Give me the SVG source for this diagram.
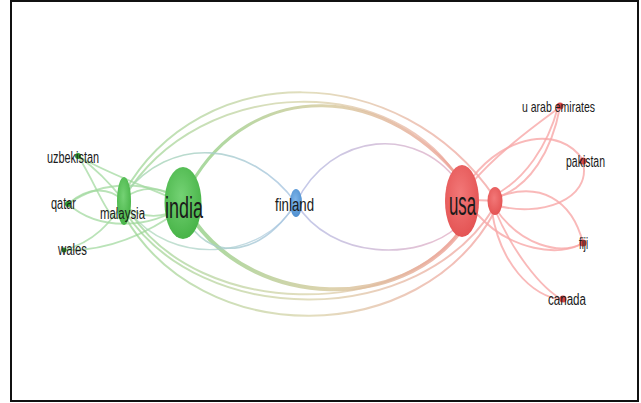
<svg xmlns="http://www.w3.org/2000/svg" width="641" height="403" viewBox="0 0 641 403">
<defs>
<linearGradient id="gLong" gradientUnits="userSpaceOnUse" x1="130" y1="0" x2="490" y2="0">
<stop offset="0" stop-color="#96d490"/>
<stop offset="0.5" stop-color="#d6cfa2"/>
<stop offset="1" stop-color="#f29a98"/>
</linearGradient>
<linearGradient id="gThick" gradientUnits="userSpaceOnUse" x1="190" y1="0" x2="470" y2="0">
<stop offset="0" stop-color="#8fd086"/>
<stop offset="0.5" stop-color="#d5c89a"/>
<stop offset="1" stop-color="#f09a94"/>
</linearGradient>
<linearGradient id="gBlue" gradientUnits="userSpaceOnUse" x1="130" y1="0" x2="296" y2="0">
<stop offset="0" stop-color="#a8d8b0"/>
<stop offset="1" stop-color="#a8c4e4"/>
</linearGradient>
<linearGradient id="gLav" gradientUnits="userSpaceOnUse" x1="296" y1="0" x2="462" y2="0">
<stop offset="0" stop-color="#b4bce4"/>
<stop offset="1" stop-color="#e6b0c4"/>
</linearGradient>
<radialGradient id="rGreen" cx="0.45" cy="0.4" r="0.6">
<stop offset="0" stop-color="#74d274"/>
<stop offset="1" stop-color="#48b448"/>
</radialGradient>
<radialGradient id="rRed" cx="0.45" cy="0.4" r="0.6">
<stop offset="0" stop-color="#f27878"/>
<stop offset="1" stop-color="#e45454"/>
</radialGradient>
<radialGradient id="rBlue" cx="0.45" cy="0.4" r="0.6">
<stop offset="0" stop-color="#7fb6ea"/>
<stop offset="1" stop-color="#4f8fd0"/>
</radialGradient>
</defs>
<style>
.e{fill:none;stroke-linecap:round}
.eg{stroke:#a3daa0;stroke-width:1.8;opacity:0.75}
.er{stroke:#f7a8a8;stroke-width:1.9;opacity:0.8}
.el{stroke:url(#gLong);stroke-width:2;opacity:0.7}
.lb{font-family:"Liberation Sans","DejaVu Sans",sans-serif;fill:#1a1a1a}
</style>
<rect x="11" y="1" width="627" height="400" fill="#fff" stroke="#111" stroke-width="2"/>
<g id="connectors">
<path class="e eg" d="M78,156 C110,175 150,188 183,203"/>
<path class="e eg" d="M78,156 C95,168 110,183 124,201"/>
<path class="e eg" d="M68,204 C90,185 110,188 124,201"/>
<path class="e eg" d="M68,204 C105,178 150,182 183,200"/>
<path class="e eg" d="M68,204 C100,232 150,228 183,206"/>
<path class="e eg" d="M64,250 C95,242 110,222 124,203"/>
<path class="e eg" d="M64,250 C110,252 150,232 183,208"/>
<path class="e eg" d="M124,198 C145,183 165,188 183,200"/>
<path class="e eg" d="M124,206 C145,220 165,218 183,206"/>
<path class="e eg" d="M78,156 C100,190 110,230 124,215"/>
<path class="e el" d="M124,193 C200,58 400,58 495,198"/>
<path class="e el" d="M124,198 C200,72 400,72 462,185"/>
<path class="e" d="M190,186 C250,78 390,78 470,192" stroke="url(#gThick)" stroke-width="3" opacity="0.8"/>
<path class="e" d="M195,222 C260,310 400,310 460,232" stroke="url(#gThick)" stroke-width="4" opacity="0.8"/>
<path class="e el" d="M124,210 C200,330 420,330 495,206"/>
<path class="e el" d="M124,215 C200,350 420,350 495,211"/>
<path class="e el" d="M130,212 C200,320 400,318 462,228"/>
<path class="e" d="M124,195 C170,135 250,140 296,203" stroke="url(#gBlue)" stroke-width="1.6" opacity="0.8"/>
<path class="e" d="M190,225 C215,262 262,255 296,203" stroke="url(#gBlue)" stroke-width="1.6" opacity="0.8"/>
<path class="e" d="M130,212 C170,265 262,262 296,203" stroke="url(#gBlue)" stroke-width="1.4" opacity="0.7"/>
<path class="e" d="M296,203 C330,132 420,122 462,188" stroke="url(#gLav)" stroke-width="1.6" opacity="0.8"/>
<path class="e" d="M296,203 C330,260 420,262 458,226" stroke="url(#gLav)" stroke-width="1.6" opacity="0.8"/>
<path class="e er" d="M495,198 C530,188 552,150 560,107"/>
<path class="e er" d="M493,196 C525,180 548,145 558,107"/>
<path class="e er" d="M470,185 C500,150 540,122 560,107"/>
<path class="e er" d="M472,178 C505,135 560,125 583,160"/>
<path class="e er" d="M495,205 C540,218 592,200 583,162"/>
<path class="e er" d="M495,198 C540,180 572,200 583,243"/>
<path class="e er" d="M495,208 C520,245 560,256 583,243"/>
<path class="e er" d="M478,215 C510,250 560,258 583,243"/>
<path class="e er" d="M495,210 C512,250 540,288 563,300"/>
<path class="e er" d="M492,212 C500,262 530,296 563,300"/>
<path class="e er" d="M462,201 C475,200 485,200 495,201"/>
</g>
<g id="n-uzbekistan"><circle cx="78" cy="156" r="3" fill="#2f9a2f"/><text class="lb" x="47" y="163" font-size="16" textLength="52" lengthAdjust="spacingAndGlyphs">uzbekistan</text></g>
<g id="n-qatar"><circle cx="68" cy="204" r="3" fill="#2f9a2f"/><text class="lb" x="51" y="209" font-size="16" textLength="25" lengthAdjust="spacingAndGlyphs">qatar</text></g>
<g id="n-wales"><circle cx="64" cy="250" r="2.5" fill="#2f9a2f"/><text class="lb" x="58" y="255" font-size="16" textLength="29" lengthAdjust="spacingAndGlyphs">wales</text></g>
<g id="n-malaysia"><ellipse cx="124" cy="201" rx="7" ry="24" fill="url(#rGreen)"/><text class="lb" x="100" y="219" font-size="16" textLength="45" lengthAdjust="spacingAndGlyphs">malaysia</text></g>
<g id="n-india"><ellipse cx="183" cy="203" rx="18.5" ry="36" fill="url(#rGreen)"/><text class="lb" x="165" y="218" font-size="29" textLength="38" lengthAdjust="spacingAndGlyphs">india</text></g>
<g id="n-finland"><ellipse cx="296" cy="203" rx="6" ry="14" fill="url(#rBlue)"/><text class="lb" x="275" y="211" font-size="18" textLength="39" lengthAdjust="spacingAndGlyphs">finland</text></g>
<g id="n-usa"><ellipse cx="462" cy="201" rx="17" ry="36" fill="url(#rRed)"/><text class="lb" x="449" y="215" font-size="33" textLength="27" lengthAdjust="spacingAndGlyphs">usa</text></g>
<g id="n-usa2"><ellipse cx="495" cy="201" rx="7.5" ry="14" fill="url(#rRed)"/></g>
<g id="n-uae"><circle cx="560" cy="106" r="3.5" fill="#d84848"/><text class="lb" x="522" y="112" font-size="15" textLength="73" lengthAdjust="spacingAndGlyphs">u arab emirates</text></g>
<g id="n-pakistan"><circle cx="583" cy="161" r="3.5" fill="#d84848"/><text class="lb" x="566" y="167" font-size="16" textLength="39" lengthAdjust="spacingAndGlyphs">pakistan</text></g>
<g id="n-fiji"><circle cx="583" cy="243" r="3.5" fill="#d84848"/><text class="lb" x="579" y="249" font-size="16" textLength="9" lengthAdjust="spacingAndGlyphs">fiji</text></g>
<g id="n-canada"><circle cx="563" cy="299" r="3.5" fill="#d84848"/><text class="lb" x="548" y="305" font-size="16" textLength="38" lengthAdjust="spacingAndGlyphs">canada</text></g>
</svg>
